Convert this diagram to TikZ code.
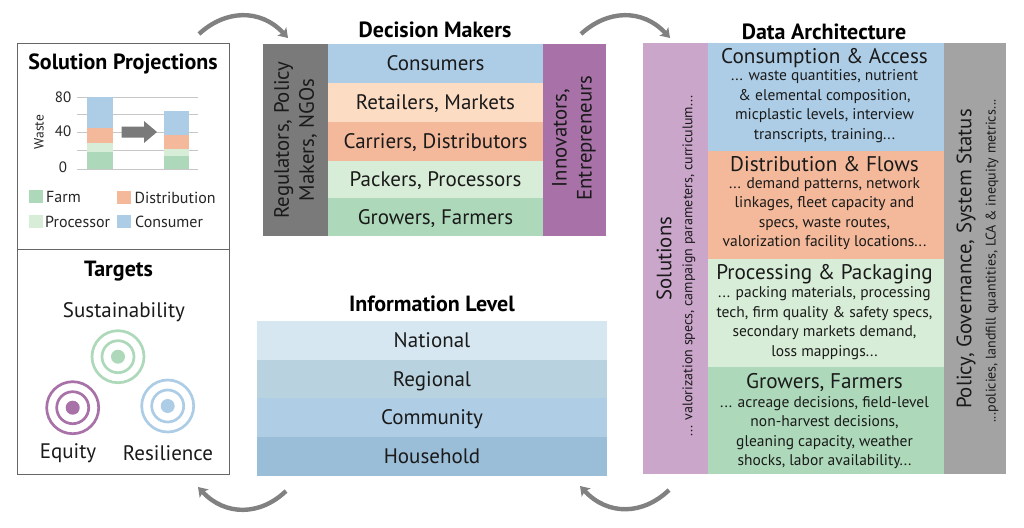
\documentclass[tikz,border=0pt]{standalone}
\usepackage{fontspec}
\setmainfont{PT Sans}
\usetikzlibrary{arrows.meta}
\definecolor{cblue}{HTML}{ADCDE6}
\definecolor{cpeach}{HTML}{FDDCC4}
\definecolor{corange}{HTML}{F4B99B}
\definecolor{clight}{HTML}{D7EDD7}
\definecolor{cgreen}{HTML}{ADD9BA}
\definecolor{cdark}{HTML}{7A7A7A}
\definecolor{cpurple}{HTML}{A872A8}
\definecolor{clilac}{HTML}{CBA6CB}
\definecolor{cgray}{HTML}{A3A3A3}
\definecolor{iA}{HTML}{D6E7F1}
\definecolor{iB}{HTML}{B9D2DF}
\definecolor{iC}{HTML}{AFCEE6}
\definecolor{iD}{HTML}{9BBED8}
\definecolor{ctext}{HTML}{1A1A1A}
\tikzset{
  panel/.style={draw=none,inner sep=0pt,outer sep=0pt,align=center,text=ctext,font=\fontsize{21}{24}\selectfont,text height=17pt,text depth=3pt},
  blank/.style={text height=0pt,text depth=0pt},
  frame/.style={draw=black!60,line width=0.9pt,fill=white,inner sep=0pt,outer sep=0pt},
  heading/.style={font=\fontsize{22}{26}\selectfont\bfseries,text=black,inner sep=0pt},
  flow/.style={draw=cdark!95,line width=4.4pt,-{Stealth[length=9pt,width=12pt,inset=2pt]}},
  gridln/.style={draw=black!22,line width=0.9pt},
  charttext/.style={font=\fontsize{15}{18}\selectfont,text=black!85,inner sep=0pt},
  legtext/.style={font=\fontsize{16}{18}\selectfont,text=black!85,inner sep=0pt},
  ptitle/.style={font=\fontsize{21.2}{25}\selectfont,text=ctext,inner sep=0pt},
  pbody/.style={font=\fontsize{15.5}{19.6}\selectfont,text=ctext,inner sep=0pt,align=center},
  sidesmall/.style={font=\fontsize{14}{15}\selectfont,text=ctext,inner sep=0pt,rotate=90},
  sidebig/.style={font=\fontsize{20.8}{25}\selectfont,text=ctext,inner sep=0pt,rotate=90,align=center},
  targettext/.style={font=\fontsize{21}{24}\selectfont,text=ctext,inner sep=0pt},
}
% name, x1, y1, x2, y2, fill, style, text
\newcommand{\bx}[8]{\node[panel,fill=#6,minimum width=#4pt-#2pt,minimum height=#5pt-#3pt,#7] (#1) at ({(#2+#4)/2},{(#3+#5)/2}) {#8};}
\newcommand{\rings}[5]{%
  \node[circle,draw=#4,line width=2.7pt,minimum size=52pt,inner sep=0pt,outer sep=0pt] (#1o) at (#2,#3) {};
  \node[circle,draw=#4,line width=2.7pt,minimum size=32pt,inner sep=0pt,outer sep=0pt] (#1m) at (#2,#3) {};
  \node[circle,fill=#4,minimum size=14pt,inner sep=0pt,outer sep=0pt] (#1c) at (#2,#3) {};}
\begin{document}
\begin{tikzpicture}[x=1pt,y=-1pt]
\useasboundingbox (0,0) rectangle (1024,527);
% left frames
\node[frame,minimum width=212pt,minimum height=206pt] (projbox) at (123,146) {};
\node[frame,minimum width=212pt,minimum height=225pt] (targbox) at (123,361.5) {};
\node[heading] (projtitle) at (123,63.5) {Solution Projections};
% chart
\foreach \yy/\nm in {97/a,114/b,132/c,150/d,169/e}{
  \coordinate (gl\nm) at (77,\yy); \coordinate (gr\nm) at (198,\yy);
  \draw[gridln] (gl\nm) -- (gr\nm);}
\bx{b1d}{87}{97}{113}{128}{cblue}{blank}{}
\bx{b1c}{87}{128}{113}{143}{corange}{blank}{}
\bx{b1b}{87}{143}{113}{152}{clight}{blank}{}
\bx{b1a}{87}{152}{113}{169}{cgreen}{blank}{}
\bx{b2d}{163.5}{111}{189}{135}{cblue}{blank}{}
\bx{b2c}{163.5}{135}{189}{148.5}{corange}{blank}{}
\bx{b2b}{163.5}{148.5}{189}{156}{clight}{blank}{}
\bx{b2a}{163.5}{156}{189}{169}{cgreen}{blank}{}
\fill[fill=cdark] (121.5,126.5) -- (144,126.5) -- (144,121) -- (157,132) -- (144,143) -- (144,137.5) -- (121.5,137.5) -- cycle;
\node[charttext] (t80) at (63,97.5) {80};
\node[charttext] (t40) at (63,131.5) {40};
\node[charttext] (t0) at (63,167.5) {0};
\node[font=\fontsize{13.5}{15}\selectfont,text=black!85,inner sep=0pt,rotate=90] (waste) at (39,132) {Waste};
% legend
\bx{lfarm}{29}{190}{42.5}{203}{cgreen}{blank}{}
\bx{ldist}{117}{191}{130.5}{204}{corange}{blank}{}
\bx{lproc}{29}{215}{42.5}{228}{clight}{blank}{}
\bx{lcons}{117}{215}{130.5}{228}{cblue}{blank}{}
\node[legtext,anchor=west] (tfarm) at (46,196.5) {Farm};
\node[legtext,anchor=west] (tdist) at (134.5,198) {Distribution};
\node[legtext,anchor=west] (tproc) at (45,221.5) {Processor};
\node[legtext,anchor=west] (tcons) at (135,221.5) {Consumer};
% targets
\node[heading] (targtitle) at (118.5,271.5) {Targets};
\node[targettext] (tsus) at (124,312) {Sustainability};
\node[targettext] (tequ) at (68,453) {Equity};
\node[targettext] (tres) at (168,453) {Resilience};
\rings{sus}{118}{356.7}{cgreen}{}
\rings{equ}{72.7}{407.7}{cpurple}{}
\rings{res}{167.7}{406}{cblue}{}
% decision makers
\node[heading] (dmtitle) at (435,30) {Decision Makers};
\bx{reg}{263}{44}{328}{236}{cdark}{blank}{}
\node[sidebig] (regt) at (295.5,140) {Regulators, Policy\\Makers, NGOs};
\bx{dcons}{328}{44}{543}{83}{cblue}{}{Consumers}
\bx{dret}{328}{83}{543}{122}{cpeach}{}{Retailers, Markets}
\bx{dcar}{328}{122}{543}{161}{corange}{}{Carriers, Distributors}
\bx{dpac}{328}{161}{543}{198}{clight}{}{Packers, Processors}
\bx{dgro}{328}{198}{543}{236}{cgreen}{}{Growers, Farmers}
\bx{inn}{543}{44}{606}{236}{cpurple}{blank}{}
\node[sidebig] (innt) at (574,138) {Innovators,\\Entrepreneurs};
% information level
\node[heading] (iltitle) at (432,304) {Information Level};
\bx{nat}{257}{321}{607}{360}{iA}{}{National}
\bx{regl}{257}{360}{607}{398}{iB}{}{Regional}
\bx{com}{257}{398}{607}{437}{iC}{}{Community}
\bx{hou}{257}{437}{607}{476}{iD}{}{Household}
% data architecture
\node[heading] (datitle) at (824,31.5) {Data Architecture};
\bx{sol}{643}{43}{708}{474}{clilac}{blank}{}
\node[sidebig] (solt) at (664,258.5) {Solutions};
\node[sidesmall] (sols) at (689,266) {... valorization specs, campaign parameters, curriculum...};
\bx{pcons}{708}{43}{944}{151}{cblue}{blank}{}
\bx{pdist}{708}{151}{944}{259}{corange}{blank}{}
\bx{pproc}{708}{259}{944}{367}{clight}{blank}{}
\bx{pgrow}{708}{367}{944}{474}{cgreen}{blank}{}
\node[ptitle] (tc) at (824.5,58.5) {Consumption \& Access};
\node[pbody,anchor=north] (bc) at (824.5,69.5) {... waste quantities, nutrient\\\& elemental composition,\\micplastic levels, interview\\transcripts, training...};
\node[ptitle] (td) at (824.5,164) {Distribution \& Flows};
\node[pbody,anchor=north] (bd) at (824.5,177) {... demand patterns, network\\linkages, fleet capacity and\\specs, waste routes,\\valorization facility locations...};
\node[ptitle] (tp) at (824.5,274.5) {Processing \& Packaging};
\node[pbody,anchor=north] (bp) at (824.5,286.5) {... packing materials, processing\\tech, firm quality \& safety specs,\\secondary markets demand,\\loss mappings...};
\node[ptitle] (tg) at (824.5,383) {Growers, Farmers};
\node[pbody,anchor=north] (bg) at (824.5,396) {... acreage decisions, field-level\\non-harvest decisions,\\gleaning capacity, weather\\shocks, labor availability...};
\bx{pol}{944}{43}{1006}{474}{cgray}{blank}{}
\node[sidebig] (polt) at (966,259) {Policy, Governance, System Status};
\node[sidesmall] (pols) at (992,261) {...policies, landfill quantities, LCA \& inequity metrics...};
% flow arcs
\coordinate (a1s) at (199,34); \coordinate (a1e) at (288,38);
\coordinate (a2s) at (581,34); \coordinate (a2e) at (670,38);
\coordinate (a3s) at (286,491); \coordinate (a3e) at (198,487);
\coordinate (a4s) at (669,490); \coordinate (a4e) at (580,486);
\draw[flow] (a1s) .. controls (225,10) and (260,8) .. (a1e);
\draw[flow] (a2s) .. controls (607,10) and (642,8) .. (a2e);
\draw[flow] (a3s) .. controls (260,516) and (225,516) .. (a3e);
\draw[flow] (a4s) .. controls (643,515) and (608,516) .. (a4e);
\end{tikzpicture}
\end{document}
